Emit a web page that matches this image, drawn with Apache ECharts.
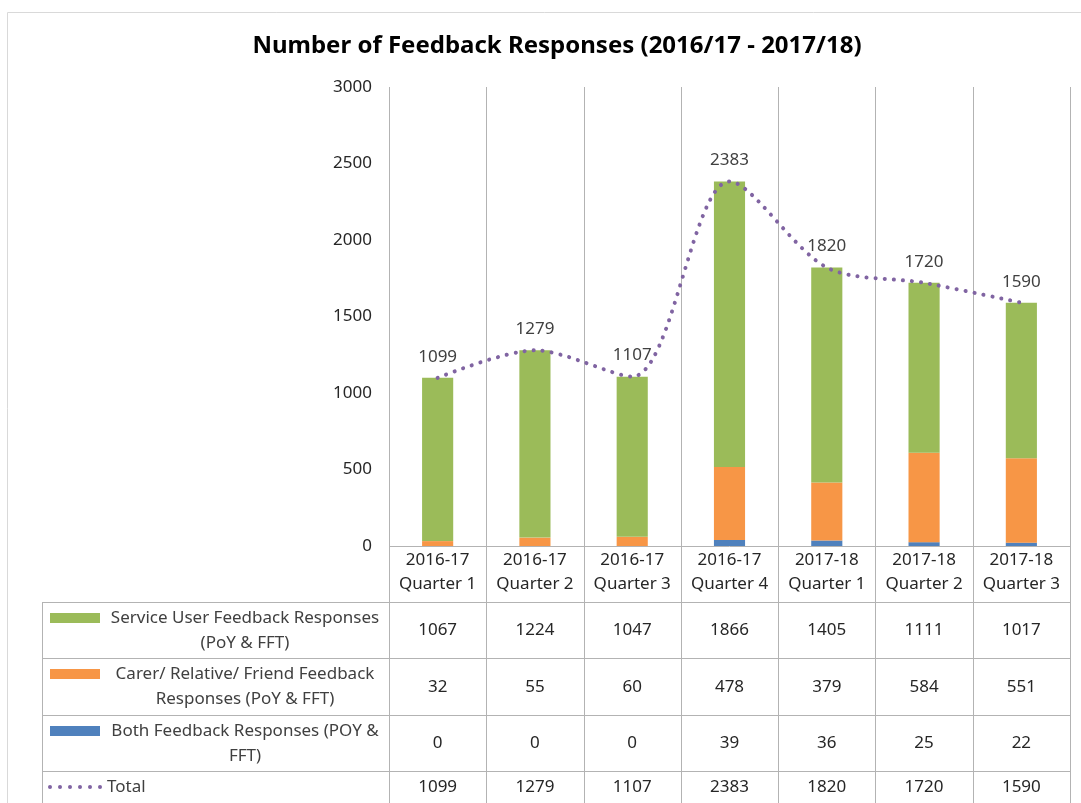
<!DOCTYPE html>
<html>
<head>
<meta charset="utf-8">
<script src="https://cdn.jsdelivr.net/npm/echarts@6/dist/echarts.min.js"></script>
<style>
  html, body { margin: 0; padding: 0; background: #fff; }
  #main { width: 1081px; height: 803px; }
</style>
</head>
<body>
<div id="main"></div>
<script>
var categories = ["2016-17\nQuarter 1", "2016-17\nQuarter 2", "2016-17\nQuarter 3", "2016-17\nQuarter 4",
  "2017-18\nQuarter 1", "2017-18\nQuarter 2", "2017-18\nQuarter 3"];
var serviceUser = [1067, 1224, 1047, 1866, 1405, 1111, 1017];
var carer = [32, 55, 60, 478, 379, 584, 551];
var both = [0, 0, 0, 39, 36, 25, 22];
var total = [1099, 1279, 1107, 2383, 1820, 1720, 1590];

var FONT = "Noto Sans";
var TXT = "#404040";
var LINE = "#b3b3b3";
var FS = 17;

// layout
var gl = 389, gr = 1070, gt = 87, gb = 546;
var rows = [602, 658, 715, 771];
var tableLeft = 42, bottomY = 803;

var chartDom = document.getElementById("main");
var myChart = echarts.init(chartDom);

// table value rows as extra category axes under the plot
function rowAxis(values, centerY) {
  return {
    type: "category",
    data: values.map(String),
    position: "bottom",
    offset: centerY - gb,
    axisLine: { show: false },
    axisTick: { show: false },
    axisLabel: { interval: 0, margin: 0, verticalAlign: "middle", color: "#262626", fontFamily: FONT, fontSize: FS }
  };
}

var graphics = [];
// outer border
graphics.push({ type: "rect", shape: { x: 7.5, y: 12.5, width: 1090, height: 810 },
  style: { fill: "none", stroke: "#d9d9d9", lineWidth: 1 }, silent: true });
// vertical lines
var cw = (gr - gl) / categories.length;
for (var i = 0; i <= categories.length; i++) {
  var x = Math.round(gl + i * cw) + 0.5;
  graphics.push({ type: "line", shape: { x1: x, y1: gt, x2: x, y2: bottomY },
    style: { stroke: LINE, lineWidth: 1 }, silent: true });
}
graphics.push({ type: "line", shape: { x1: tableLeft + 0.5, y1: rows[0], x2: tableLeft + 0.5, y2: bottomY },
  style: { stroke: LINE, lineWidth: 1 }, silent: true });
graphics.push({ type: "line", shape: { x1: gl, y1: gb + 0.5, x2: gr, y2: gb + 0.5 },
  style: { stroke: LINE, lineWidth: 1 }, silent: true });
rows.forEach(function (y) {
  graphics.push({ type: "line", shape: { x1: tableLeft, y1: y + 0.5, x2: gr, y2: y + 0.5 },
    style: { stroke: LINE, lineWidth: 1 }, silent: true });
});

// legend keys in table
var keys = [
  { color: "#9bbb59", y: 613, lines: ["Service User Feedback Responses", "(PoY & FFT)"] },
  { color: "#f79646", y: 669, lines: ["Carer/ Relative/ Friend Feedback", "Responses (PoY & FFT)"] },
  { color: "#4f81bd", y: 726, lines: ["Both Feedback Responses (POY &", "FFT)"] }
];
var keyFont = FS + "px '" + FONT + "'";
keys.forEach(function (k) {
  graphics.push({ type: "rect", shape: { x: 50, y: k.y, width: 50, height: 10 }, style: { fill: k.color }, silent: true });
  graphics.push({ type: "text", x: 245, y: k.y + 5, style: { text: k.lines[0], fill: TXT, font: keyFont,
    textAlign: "center", textVerticalAlign: "middle" }, silent: true });
  graphics.push({ type: "text", x: 245, y: k.y + 30, style: { text: k.lines[1], fill: TXT, font: keyFont,
    textAlign: "center", textVerticalAlign: "middle" }, silent: true });
});
for (var d = 0; d < 6; d++) {
  graphics.push({ type: "circle", shape: { cx: 50 + d * 10, cy: 787, r: 2 }, style: { fill: "#8064a2" }, silent: true });
}
graphics.push({ type: "text", x: 107, y: 787, style: { text: "Total", fill: TXT, font: keyFont,
  textAlign: "left", textVerticalAlign: "middle" }, silent: true });

var option = {
  animation: false,
  title: {
    text: "Number of Feedback Responses (2016/17 - 2017/18)",
    left: 552, top: 29, textAlign: "center",
    textStyle: { fontFamily: FONT, fontSize: 24, fontWeight: "bold", color: "#000" }
  },
  grid: { left: gl, right: 1081 - gr, top: gt, bottom: 803 - gb },
  xAxis: [
    {
      type: "category",
      data: categories,
      axisLine: { show: false },
      axisTick: { show: false },
      axisLabel: { interval: 0, margin: 26, verticalAlign: "middle", lineHeight: 24, color: "#262626", fontFamily: FONT, fontSize: FS }
    },
    rowAxis(serviceUser, 630),
    rowAxis(carer, 687),
    rowAxis(both, 743),
    rowAxis(total, 787)
  ],
  yAxis: {
    type: "value",
    min: 0, max: 3000, interval: 500,
    axisLine: { show: false },
    axisTick: { show: false },
    splitLine: { show: false },
    axisLabel: { margin: 17, color: "#262626", fontFamily: FONT, fontSize: FS,
      formatter: function (v) { return String(v); } }
  },
  series: [
    { name: "Both Feedback Responses (POY & FFT)", type: "bar", stack: "a", data: both,
      barWidth: "32%", itemStyle: { color: "#4f81bd" } },
    { name: "Carer/ Relative/ Friend Feedback Responses (PoY & FFT)", type: "bar", stack: "a", data: carer,
      itemStyle: { color: "#f79646" } },
    { name: "Service User Feedback Responses (PoY & FFT)", type: "bar", stack: "a", data: serviceUser,
      itemStyle: { color: "#9bbb59" } },
    { name: "Total", type: "line", data: total, smooth: 0.3,
      symbol: "circle", symbolSize: 1,
      itemStyle: { color: "rgba(0,0,0,0)" },
      lineStyle: { color: "#8064a2", width: 4, type: [0.1, 9], cap: "round" },
      label: { show: true, position: "top", distance: 12, color: TXT, fontFamily: FONT, fontSize: FS },
      z: 5 }
  ],
  graphic: graphics
};

option && myChart.setOption(option);
</script>
</body>
</html>
